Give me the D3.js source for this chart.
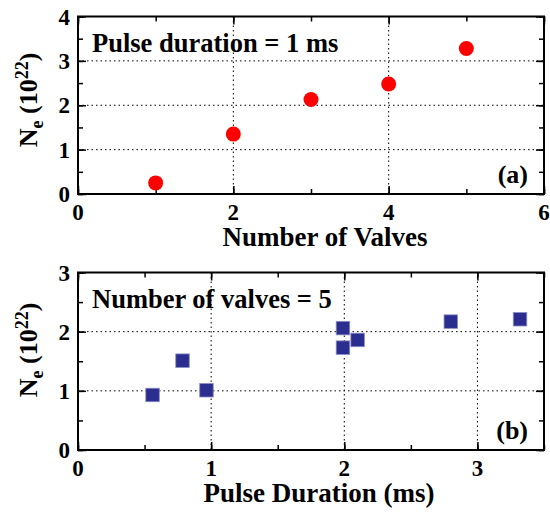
<!DOCTYPE html>
<html>
<head>
<meta charset="utf-8">
<script src="https://cdn.jsdelivr.net/npm/d3@7"></script>
<style>
  html, body { margin: 0; padding: 0; background: #fff; }
</style>
</head>
<body>
<svg id="chart" width="550" height="512"></svg>
<script>
// Panel (a): electron density vs number of valves (1 ms pulse)
const valves = [1, 2, 3, 4, 5];
const densityA = [0.25, 1.35, 2.13, 2.48, 3.28];
const xTicksA = [0, 2, 4, 6];
const yTicksA = [0, 1, 2, 3, 4];

// Panel (b): electron density vs pulse duration (5 valves)
const durations = [0.56, 0.785, 0.965, 1.99, 1.99, 2.10, 2.80, 3.32];
const densityB = [0.93, 1.51, 1.01, 2.06, 1.73, 1.86, 2.17, 2.21];
const xTicksB = [0, 1, 2, 3];
const yTicksB = [0, 1, 2, 3];

const FONT = "Liberation Serif, Tinos, Times New Roman, Nimbus Roman, DejaVu Serif, serif";
const svg = d3.select("#chart");

function txt(sel) {
  return sel.attr("font-family", FONT).attr("font-weight", "bold").attr("fill", "#000");
}

function panel(cfg) {
  const x = d3.scaleLinear().domain(cfg.xDomain).range([78, 544]);
  const y = d3.scaleLinear().domain(cfg.yDomain).range([cfg.bottom, cfg.top]);
  const g = svg.append("g");

  // dotted grid at major ticks
  g.selectAll(".gx").data(cfg.xTicks.filter(t => t > cfg.xDomain[0] && t < cfg.xDomain[1]))
    .join("line")
    .attr("x1", d => x(d)).attr("x2", d => x(d))
    .attr("y1", cfg.top).attr("y2", cfg.bottom)
    .attr("stroke", "#000").attr("stroke-width", 1).attr("stroke-dasharray", "1.5,3");
  g.selectAll(".gy").data(cfg.yTicks.filter(t => t > cfg.yDomain[0] && t < cfg.yDomain[1]))
    .join("line")
    .attr("y1", d => y(d)).attr("y2", d => y(d))
    .attr("x1", 78).attr("x2", 544)
    .attr("stroke", "#000").attr("stroke-width", 1).attr("stroke-dasharray", "1.5,3");

  // inward ticks on all four sides
  const tickLayer = (axisGen, tr, major, minor, vals, minVals) => {
    const a = g.append("g").attr("transform", tr);
    a.call(axisGen.tickValues(vals).tickSize(major).tickFormat(""));
    a.select(".domain").remove();
    a.selectAll("line").attr("stroke-width", 1.5);
    const b = g.append("g").attr("transform", tr);
    b.call(axisGen.tickValues(minVals).tickSize(minor).tickFormat(""));
    b.select(".domain").remove();
    b.selectAll("line").attr("stroke-width", 1.5);
  };
  const xMinor = d3.range(cfg.xDomain[0], cfg.xDomain[1] + 1e-9, cfg.xMinor);
  const yMinor = d3.range(cfg.yDomain[0], cfg.yDomain[1] + 1e-9, cfg.yMinor);
  tickLayer(d3.axisTop(x), `translate(0,${cfg.bottom})`, 8, 5, cfg.xTicks, xMinor);
  tickLayer(d3.axisBottom(x), `translate(0,${cfg.top})`, 8, 5, cfg.xTicks, xMinor);
  tickLayer(d3.axisRight(y), `translate(78,0)`, 8, 5, cfg.yTicks, yMinor);
  tickLayer(d3.axisLeft(y), `translate(544,0)`, 8, 5, cfg.yTicks, yMinor);

  // tick labels
  txt(g.selectAll(".xl").data(cfg.xTicks).join("text"))
    .attr("x", d => x(d)).attr("y", cfg.bottom + 26)
    .attr("text-anchor", "middle").attr("font-size", 23).text(d => d);
  txt(g.selectAll(".yl").data(cfg.yTicks).join("text"))
    .attr("x", 70).attr("y", d => y(d) + 8)
    .attr("text-anchor", "end").attr("font-size", 23).text(d => d);

  // frame
  g.append("rect").attr("x", 78).attr("y", cfg.top)
    .attr("width", 544 - 78).attr("height", cfg.bottom - cfg.top)
    .attr("fill", "none").attr("stroke", "#000").attr("stroke-width", 2);

  // axis titles
  txt(g.append("text")).attr("x", cfg.xTitleX).attr("y", cfg.bottom + 52)
    .attr("text-anchor", "middle").attr("font-size", 27).text(cfg.xTitle);

  const yt = txt(g.append("text"))
    .attr("transform", `translate(37,${cfg.yTitleY}) rotate(-90)`)
    .attr("text-anchor", "middle").attr("font-size", 26);
  yt.append("tspan").text("N");
  yt.append("tspan").attr("dy", 6).attr("font-size", 18).text("e");
  yt.append("tspan").attr("dy", -6).text(" (10");
  yt.append("tspan").attr("dy", -9).attr("font-size", 18).text("22");
  yt.append("tspan").attr("dy", 9).text(")");

  // in-plot annotations
  txt(g.append("text")).attr("x", 92).attr("y", cfg.top + 35)
    .attr("font-size", 26.5).text(cfg.note);
  txt(g.append("text")).attr("x", 528).attr("y", cfg.bottom - 11)
    .attr("text-anchor", "end").attr("font-size", 26).text(cfg.label);

  return { g, x, y };
}

const pa = panel({
  xDomain: [0, 6], yDomain: [0, 4], top: 16.5, bottom: 194,
  xTicks: xTicksA, yTicks: yTicksA, xMinor: 1, yMinor: 0.5,
  xTitle: "Number of Valves", xTitleX: 325, yTitleY: 100,
  note: "Pulse duration = 1 ms", label: "(a)"
});
pa.g.selectAll(".pt").data(valves.map((v, i) => [v, densityA[i]])).join("circle")
  .attr("cx", d => pa.x(d[0])).attr("cy", d => pa.y(d[1])).attr("r", 7.5)
  .attr("fill", "#ff0000");

const pb = panel({
  xDomain: [0, 3.5], yDomain: [0, 3], top: 272.5, bottom: 450,
  xTicks: xTicksB, yTicks: yTicksB, xMinor: 0.5, yMinor: 0.5,
  xTitle: "Pulse Duration (ms)", xTitleX: 319, yTitleY: 350,
  note: "Number of valves = 5", label: "(b)"
});
const s = 13.5;
pb.g.selectAll(".sq").data(durations.map((v, i) => [v, densityB[i]])).join("rect")
  .attr("x", d => pb.x(d[0]) - s / 2).attr("y", d => pb.y(d[1]) - s / 2)
  .attr("width", s).attr("height", s)
  .attr("fill", "#2b2d8f").attr("stroke", "#8a8cc4").attr("stroke-width", 0.8);
</script>
</body>
</html>
